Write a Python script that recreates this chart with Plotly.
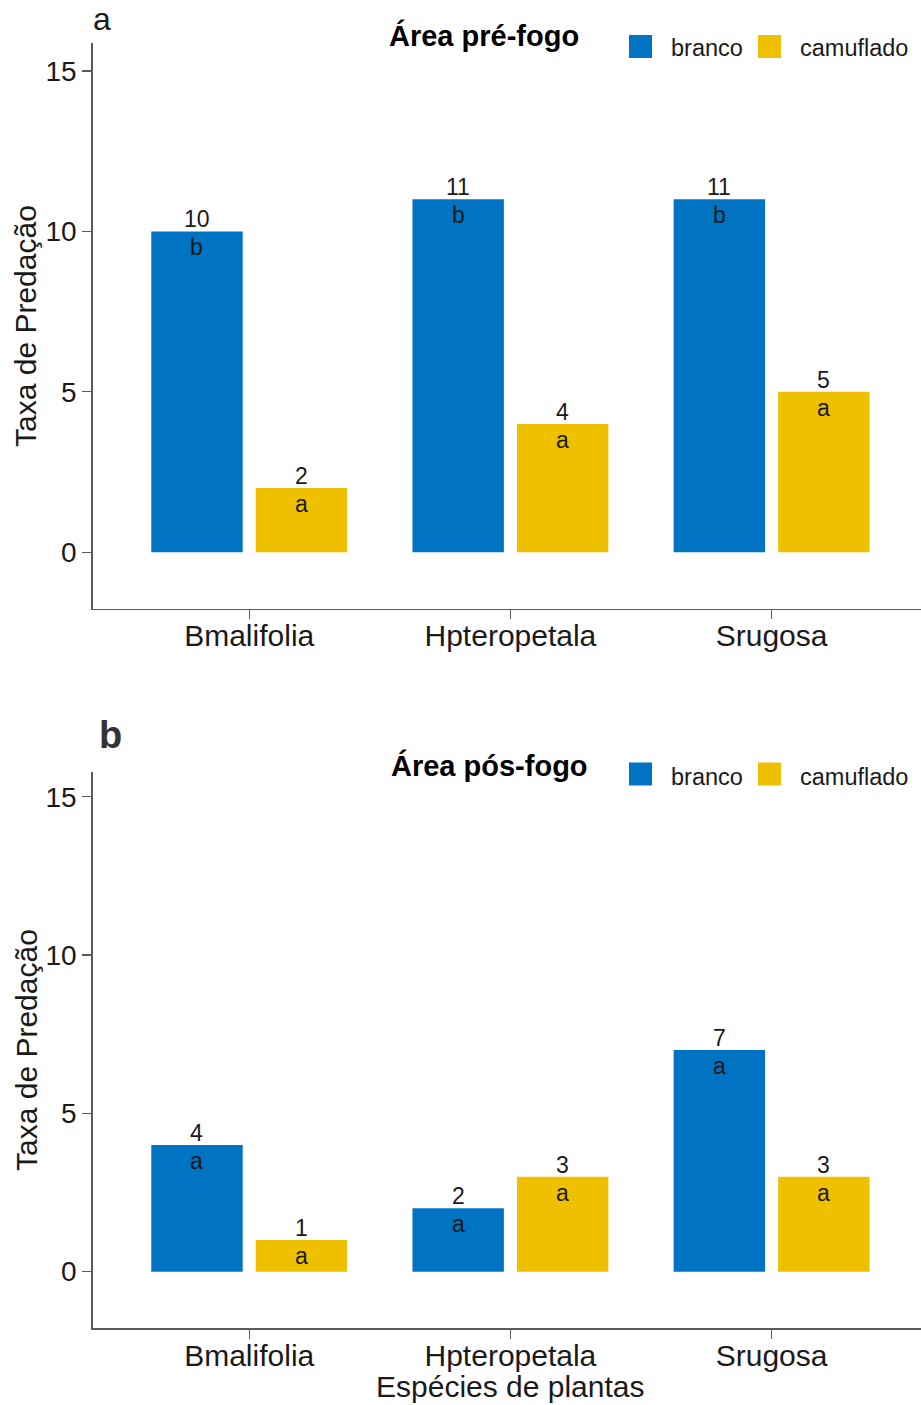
import plotly.graph_objects as go

# ---------------- data ----------------
species = ["Bmalifolia", "Hpteropetala", "Srugosa"]
groups = ["branco", "camuflado"]
pre_branco = [10, 11, 11]
pre_camuflado = [2, 4, 5]
pre_letters_branco = ["b", "b", "b"]
pre_letters_camuflado = ["a", "a", "a"]
pos_branco = [4, 2, 7]
pos_camuflado = [1, 3, 3]
pos_letters_branco = ["a", "a", "a"]
pos_letters_camuflado = ["a", "a", "a"]
y_ticks = [0, 5, 10, 15]
panel_titles = ["Área pré-fogo", "Área pós-fogo"]
panel_tags = ["a", "b"]
y_title = "Taxa de Predação"
x_title = "Espécies de plantas"

colors = {"branco": "#0073C2", "camuflado": "#EFC000"}

W, H = 921, 1405
FONT = "Liberation Sans, Arial, sans-serif"
TXT = "#1a1a1a"
AX = "#5b5b5b"


def py(px):
    return 1 - px / H


def px_x(px):
    return px / W


idx = list(range(1, len(species) + 1))

fig = go.Figure()

panels = [
    dict(br=pre_branco, ca=pre_camuflado, lb=pre_letters_branco, lc=pre_letters_camuflado,
         xa="x", ya="y", top=43, bot=609, yr=[-1.767, 15.87]),
    dict(br=pos_branco, ca=pos_camuflado, lb=pos_letters_branco, lc=pos_letters_camuflado,
         xa="x2", ya="y2", top=771.7, bot=1328.3, yr=[-1.79, 15.79]),
]

annotations = []
shapes = []

for p_i, p in enumerate(panels):
    for g, vals, letters, off in [("branco", p["br"], p["lb"], -0.375),
                                  ("camuflado", p["ca"], p["lc"], 0.025)]:
        fig.add_trace(go.Bar(
            x=idx, y=vals, offset=off, width=0.35,
            marker=dict(color=colors[g], line=dict(width=0)),
            name=g, showlegend=False, xaxis=p["xa"], yaxis=p["ya"],
            hoverinfo="skip",
        ))
        for i, v, l in zip(idx, vals, letters):
            cx = i + off + 0.175
            annotations.append(dict(x=cx, y=v, xref=p["xa"], yref=p["ya"], text=str(v),
                                    showarrow=False, yanchor="middle", yshift=12,
                                    font=dict(family=FONT, size=23, color=TXT)))
            annotations.append(dict(x=cx, y=v, xref=p["xa"], yref=p["ya"], text=l,
                                    showarrow=False, yanchor="middle", yshift=-16,
                                    font=dict(family=FONT, size=23, color=TXT)))

# axes
axis_common_x = dict(range=[0.4, 3.572], tickmode="array", tickvals=idx, ticktext=species,
                     showline=True, linecolor=AX, linewidth=1.3, ticks="outside",
                     ticklen=9, tickcolor=AX, tickwidth=1.3, showgrid=False, zeroline=False,
                     tickfont=dict(family=FONT, size=30, color=TXT), automargin=False,
                     ticklabelstandoff=-9,
                     domain=[px_x(92.5), 1], fixedrange=True)
axis_common_y = dict(tickmode="array", tickvals=y_ticks, showline=True, linecolor=AX,
                     linewidth=1.3, ticks="outside", ticklen=9, tickcolor=AX, tickwidth=1.3,
                     showgrid=False, zeroline=False, automargin=False,
                     tickfont=dict(family=FONT, size=28, color=TXT), fixedrange=True)

fig.update_layout(
    xaxis=dict(axis_common_x, anchor="y"),
    xaxis2=dict(axis_common_x, anchor="y2"),
    yaxis=dict(axis_common_y, anchor="x", range=panels[0]["yr"],
               domain=[py(panels[0]["bot"]), py(panels[0]["top"])]),
    yaxis2=dict(axis_common_y, anchor="x2", range=panels[1]["yr"],
                domain=[py(panels[1]["bot"]), py(panels[1]["top"])]),
)

# titles, tags, legends, y titles
title_pos = [(484, 36), (489, 765)]
tag_pos = [(101.5, 18.9, 32, "normal", TXT), (110.5, 734.8, 38, "bold", "#333333")]
legend_y = [46.5, 774]
legend_text_y = [48, 776.6]
legend_sq_x = [(629, 652), (758, 781)]
legend_txt_x = [669, 798]

for p_i, p in enumerate(panels):
    tx, ty = title_pos[p_i]
    annotations.append(dict(x=px_x(tx), y=py(ty), xref="paper", yref="paper",
                            text="<b>" + panel_titles[p_i] + "</b>", showarrow=False,
                            xanchor="center", yanchor="middle",
                            font=dict(family=FONT, size=29, color="#000000")))
    gx, gy, gs, gw, gc = tag_pos[p_i]
    annotations.append(dict(x=px_x(gx), y=py(gy), xref="paper", yref="paper",
                            text=panel_tags[p_i], showarrow=False,
                            xanchor="center", yanchor="middle",
                            font=dict(family=FONT, size=gs, color=gc, weight=gw)))
    annotations.append(dict(x=px_x(26), y=py((p["top"] + p["bot"]) / 2), xref="paper", yref="paper",
                            text=y_title, showarrow=False, textangle=-90,
                            xanchor="center", yanchor="middle",
                            font=dict(family=FONT, size=30, color=TXT)))
    for k, g in enumerate(groups):
        x0, x1 = legend_sq_x[k]
        cy = legend_y[p_i]
        shapes.append(dict(type="rect", xref="paper", yref="paper",
                           x0=px_x(x0), x1=px_x(x1), y0=py(cy + 11.5), y1=py(cy - 11.5),
                           fillcolor=colors[g], line=dict(width=0)))
        annotations.append(dict(x=px_x(legend_txt_x[k]), y=py(legend_text_y[p_i]),
                                xref="paper", yref="paper", text=g, showarrow=False,
                                xanchor="left", yanchor="middle",
                                font=dict(family=FONT, size=23.5, color=TXT)))

annotations.append(dict(x=px_x(510.5), y=py(1386), xref="paper", yref="paper",
                        text=x_title, showarrow=False, xanchor="center", yanchor="middle",
                        font=dict(family=FONT, size=30, color=TXT)))

fig.update_layout(
    width=W, height=H,
    margin=dict(l=0, r=0, t=0, b=0),
    paper_bgcolor="white", plot_bgcolor="white",
    showlegend=False, barmode="overlay",
    annotations=annotations, shapes=shapes,
    font=dict(family=FONT, color=TXT),
)

fig.write_html("out.html",
               config={"displayModeBar": False, "staticPlot": True},
               post_script="document.body.style.margin='0';document.body.style.overflow='hidden';")
